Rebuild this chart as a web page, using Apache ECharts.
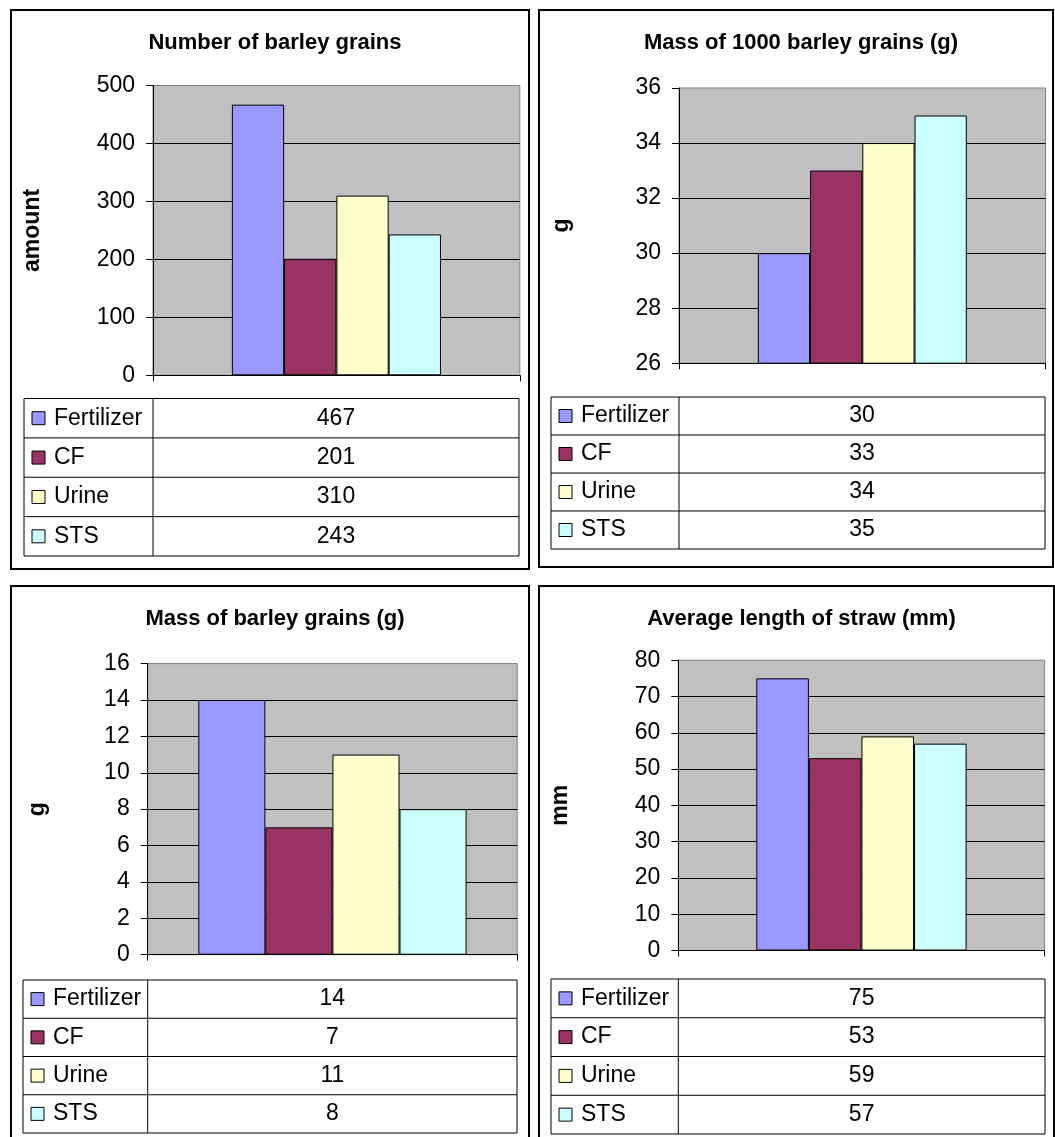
<!DOCTYPE html>
<html>
<head>
<meta charset="utf-8">
<script src="https://cdn.jsdelivr.net/npm/echarts@6/dist/echarts.min.js"></script>
<style>
  html, body { margin: 0; padding: 0; background: #fff; }
  #chart { width: 1055px; height: 1137px; }
</style>
</head>
<body>
<div id="chart"></div>
<script>
// ---------------- data ----------------
const treatments = ['Fertilizer', 'CF', 'Urine', 'STS'];
const panelTitles = [
  'Number of barley grains',
  'Mass of 1000 barley grains (g)',
  'Mass of barley grains (g)',
  'Average length of straw (mm)'
];
const axisNames = ['amount', 'g', 'g', 'mm'];
const grainCount = [467, 201, 310, 243];
const mass1000 = [30, 33, 34, 35];
const grainMass = [14, 7, 11, 8];
const strawLength = [75, 53, 59, 57];
const yMin = [0, 26, 0, 0];
const yMax = [500, 36, 16, 80];
const yStep = [100, 2, 2, 10];

// ---------------- style / layout ----------------
const seriesColors = ['#9999FF', '#993366', '#FFFFCC', '#CCFFFF'];
const FONT = 'Arial, "Liberation Sans", sans-serif';
const panelValues = [grainCount, mass1000, grainMass, strawLength];

const layout = [
  { box: [11, 10, 518, 559], titleTop: 27, grid: [153, 85.5, 366.8, 289.8], gap: '43%', table: [24, 398.5, 519, 556], nameGap: 109 },
  { box: [539, 10, 514, 557], titleTop: 27, grid: [679, 88, 366.6, 275.2], gap: '43%', table: [551, 397, 1045, 549], nameGap: 106 },
  { box: [11, 586, 518, 600], titleTop: 603, grid: [147.7, 663.6, 369.5, 291.1], gap: '27.4%', table: [23, 980, 517, 1133], nameGap: 99 },
  { box: [539, 586, 515, 600], titleTop: 603, grid: [678.3, 660.2, 366.3, 290.3], gap: '42.6%', table: [551, 979, 1045, 1134], nameGap: 106 }
];

const grids = [], xAxes = [], yAxes = [], series = [], titles = [], graphics = [];

layout.forEach((L, p) => {
  // outer box
  graphics.push({
    type: 'rect', z: 0, silent: true,
    shape: { x: L.box[0], y: L.box[1], width: L.box[2], height: L.box[3] },
    style: { fill: null, stroke: '#000', lineWidth: 2 }
  });
  titles.push({
    text: panelTitles[p],
    left: L.box[0] + L.box[2] / 2,
    top: L.titleTop,
    textAlign: 'center',
    textStyle: { fontFamily: FONT, fontSize: 22, fontWeight: 'bold', color: '#000' }
  });
  grids.push({
    left: L.grid[0], top: L.grid[1], width: L.grid[2], height: L.grid[3],
    outerBoundsMode: 'none', containLabel: false,
    show: true, backgroundColor: '#C0C0C0', borderColor: '#808080', borderWidth: 1
  });
  xAxes.push({
    type: 'category', gridIndex: p, data: [''],
    axisLine: { show: true, lineStyle: { color: '#000', width: 1 } },
    axisTick: { show: true, length: 6, lineStyle: { color: '#000' } },
    axisLabel: { show: false },
    splitLine: { show: false }
  });
  yAxes.push({
    type: 'value', gridIndex: p,
    min: yMin[p], max: yMax[p], interval: yStep[p],
    name: axisNames[p], nameLocation: 'middle', nameGap: L.nameGap,
    nameTextStyle: { fontFamily: FONT, fontSize: 23, fontWeight: 'bold', color: '#000' },
    axisLine: { show: true, lineStyle: { color: '#000', width: 1 } },
    axisTick: { show: true, length: 7, lineStyle: { color: '#000' } },
    axisLabel: { fontFamily: FONT, fontSize: 23, color: '#000', margin: 18 },
    splitLine: { show: true, showMaxLine: false, lineStyle: { color: '#000', width: 1 } }
  });
  treatments.forEach((t, k) => {
    series.push({
      type: 'bar', name: t, xAxisIndex: p, yAxisIndex: p,
      data: [panelValues[p][k]],
      barGap: '0%', barCategoryGap: L.gap,
      itemStyle: { color: seriesColors[k], borderColor: '#000', borderWidth: 1 },
      emphasis: { disabled: true }
    });
  });

  // data table
  const [tx0, ty0, tx1, ty1] = L.table;
  const div = L.grid[0];
  const rowH = (ty1 - ty0) / treatments.length;
  graphics.push({
    type: 'rect', silent: true,
    shape: { x: tx0, y: ty0, width: tx1 - tx0, height: ty1 - ty0 },
    style: { fill: null, stroke: '#000', lineWidth: 1 }
  });
  graphics.push({
    type: 'line', silent: true,
    shape: { x1: div, y1: ty0, x2: div, y2: ty1 },
    style: { stroke: '#000', lineWidth: 1 }
  });
  treatments.forEach((t, k) => {
    const yc = ty0 + rowH * (k + 0.5);
    if (k > 0) {
      graphics.push({
        type: 'line', silent: true,
        shape: { x1: tx0, y1: ty0 + rowH * k, x2: tx1, y2: ty0 + rowH * k },
        style: { stroke: '#000', lineWidth: 1 }
      });
    }
    graphics.push({
      type: 'rect', silent: true,
      shape: { x: tx0 + 8, y: yc - 6.5, width: 13, height: 13 },
      style: { fill: seriesColors[k], stroke: '#000', lineWidth: 1 }
    });
    graphics.push({
      type: 'text', silent: true,
      style: { text: t, x: tx0 + 30, y: yc, fill: '#000', fontSize: 23, fontFamily: FONT,
               textAlign: 'left', textVerticalAlign: 'middle' }
    });
    graphics.push({
      type: 'text', silent: true,
      style: { text: String(panelValues[p][k]), x: (div + tx1) / 2, y: yc, fill: '#000',
               fontSize: 23, fontFamily: FONT, textAlign: 'center', textVerticalAlign: 'middle' }
    });
  });
});

const chart = echarts.init(document.getElementById('chart'), null, { renderer: 'canvas' });
chart.setOption({
  animation: false,
  backgroundColor: '#fff',
  title: titles,
  grid: grids,
  xAxis: xAxes,
  yAxis: yAxes,
  series: series,
  tooltip: { show: false },
  graphic: { elements: graphics }
});
</script>
</body>
</html>
